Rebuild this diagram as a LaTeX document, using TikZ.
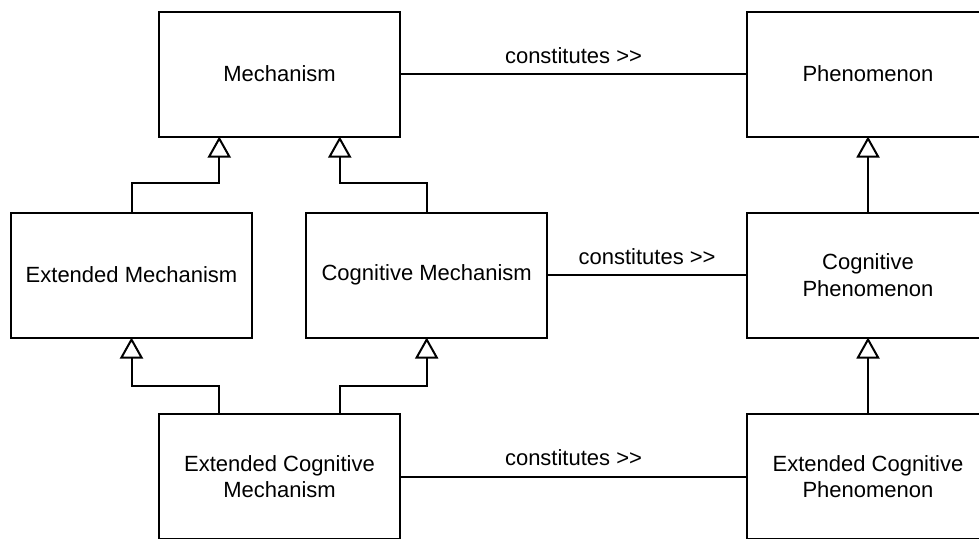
\documentclass[tikz,border=0pt]{standalone}
\usepackage{fontspec}
\setmainfont{Liberation Sans}
\usetikzlibrary{arrows.meta,calc}
\begin{document}
\begin{tikzpicture}[x=1pt,y=-1pt,
  box/.style={draw, line width=2pt, rectangle, minimum width=241pt, minimum height=125pt,
    inner sep=0pt, outer sep=0pt, align=center, font=\fontsize{22pt}{26.4pt}\selectfont},
  conn/.style={draw, line width=2pt},
  gen/.style={draw, line width=2pt, -{Triangle[open, length=21pt, width=23pt]}},
  lbl/.style={midway, anchor=base, yshift=11pt, inner sep=0pt, font=\fontsize{22pt}{26.4pt}\selectfont}]
\fill[white] (0,0) rectangle (979,538);
\useasboundingbox (0,0) rectangle (979,538);
\clip (0,0) rectangle (979,538);
\node[box] (mech) at (279.5,74) {Mechanism};
\node[box, minimum width=242pt] (phen) at (868,74) {Phenomenon};
\node[box] (extmech) at (131.5,275) {Extended Mechanism};
\node[box] (cogmech) at (426.7,275) {Cognitive Mechanism};
\node[box, minimum width=242pt] (cogphen) at (868,275) {Cognitive\\Phenomenon};
\node[box] (ecm) at (279.5,476.5) {Extended Cognitive\\Mechanism};
\node[box, minimum width=242pt] (ecp) at (868,476.5) {Extended Cognitive\\Phenomenon};
\coordinate (j1) at (0,183);
\coordinate (j2) at (0,386);
\coordinate (m1) at ($(mech.south west)!.25!(mech.south east)$);
\coordinate (m2) at ($(mech.south west)!.75!(mech.south east)$);
\coordinate (e1) at ($(ecm.north west)!.25!(ecm.north east)$);
\coordinate (e2) at ($(ecm.north west)!.75!(ecm.north east)$);
\draw[conn] (mech.east) -- (phen.west) node[lbl] {constitutes >{}>};
\draw[conn] (cogmech.east) -- (cogphen.west) node[lbl] {constitutes >{}>};
\draw[conn] (ecm.east) -- (ecp.west) node[lbl] {constitutes >{}>};
\draw[gen] (extmech.north) -- (extmech.north |- j1) -| (m1);
\draw[gen] (cogmech.north) -- (cogmech.north |- j1) -| (m2);
\draw[gen] (e1) -- (e1 |- j2) -| (extmech.south);
\draw[gen] (e2) -- (e2 |- j2) -| (cogmech.south);
\draw[gen] (cogphen.north) -- (phen.south);
\draw[gen] (ecp.north) -- (cogphen.south);
\end{tikzpicture}
\end{document}
